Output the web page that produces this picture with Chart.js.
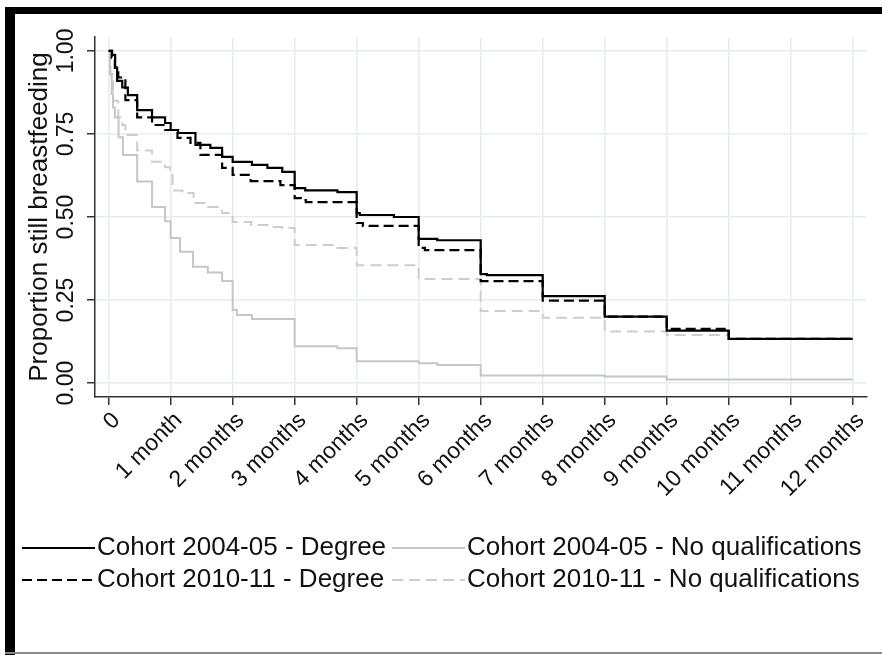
<!DOCTYPE html>
<html>
<head>
<meta charset="utf-8">
<script src="https://cdn.jsdelivr.net/npm/chart.js@4.4.1/dist/chart.umd.min.js"></script>
<style>
  html, body { margin: 0; padding: 0; background: #fff; }
  #wrap { position: relative; width: 882px; height: 655px; }
</style>
</head>
<body>
<div id="wrap"><canvas id="km"></canvas></div>
<script>
// axis ticks
const xTicks = [0, 1, 2, 3, 4, 5, 6, 7, 8, 9, 10, 11, 12];
const xTickLabels = ['0', '1 month', '2 months', '3 months', '4 months', '5 months', '6 months',
  '7 months', '8 months', '9 months', '10 months', '11 months', '12 months'];
const yTicks = [0, 0.25, 0.5, 0.75, 1];
const yTickLabels = ['0.00', '0.25', '0.50', '0.75', '1.00'];
const yTitle = 'Proportion still breastfeeding';

const seriesNames = ['Cohort 2004-05 - Degree', 'Cohort 2004-05 - No qualifications',
  'Cohort 2010-11 - Degree', 'Cohort 2010-11 - No qualifications'];

// Kaplan-Meier estimates (time in months, proportion)
const deg04Time = [0, 0.056, 0.105, 0.137, 0.22, 0.31, 0.46, 0.70, 0.91, 1.0, 1.12, 1.40, 1.64, 1.83, 2.0,
  2.31, 2.56, 2.80, 3.0, 3.17, 3.69, 4.0, 4.05, 4.6, 5.0, 5.3, 6.0, 6.1, 7.0, 8.0, 9.0, 10.0, 12.0];
const deg04Surv = [1.0, 0.988, 0.95, 0.91, 0.89, 0.867, 0.822, 0.80, 0.783, 0.762, 0.753, 0.717, 0.708, 0.681, 0.666,
  0.657, 0.648, 0.636, 0.587, 0.58, 0.575, 0.512, 0.506, 0.50, 0.434, 0.43, 0.328, 0.325, 0.262, 0.20, 0.158, 0.133, 0.133];

const noq04Time = [0, 0.02, 0.05, 0.07, 0.10, 0.16, 0.23, 0.46, 0.70, 0.91, 1.0, 1.15, 1.36, 1.6, 1.83, 2.0,
  2.07, 2.31, 3.0, 3.69, 4.0, 5.0, 5.3, 6.0, 8.0, 9.0, 12.0];
const noq04Surv = [1.0, 0.93, 0.87, 0.83, 0.80, 0.74, 0.687, 0.607, 0.53, 0.487, 0.437, 0.395, 0.35, 0.333, 0.307, 0.22,
  0.205, 0.193, 0.111, 0.105, 0.066, 0.06, 0.054, 0.023, 0.02, 0.011, 0.011];

const deg10Time = [0, 0.05, 0.10, 0.155, 0.27, 0.46, 0.70, 0.91, 1.11, 1.32, 1.48, 1.83, 2.0, 2.29, 2.77,
  3.0, 3.1, 3.18, 4.0, 4.1, 5.0, 5.1, 6.0, 7.0, 8.0, 9.0, 10.0, 12.0];
const deg10Surv = [1.0, 0.98, 0.95, 0.92, 0.852, 0.80, 0.777, 0.762, 0.738, 0.723, 0.687, 0.648, 0.627, 0.608, 0.596,
  0.557, 0.551, 0.545, 0.482, 0.473, 0.407, 0.40, 0.307, 0.248, 0.20, 0.163, 0.133, 0.133];

const noq10Time = [0, 0.03, 0.07, 0.155, 0.22, 0.27, 0.46, 0.70, 0.91, 0.99, 1.03, 1.19, 1.37, 1.6, 1.83, 2.0,
  2.3, 2.56, 2.8, 3.0, 3.69, 4.0, 5.0, 6.0, 7.0, 8.0, 9.0, 10.0];
const noq10Surv = [1.0, 0.93, 0.85, 0.80, 0.777, 0.747, 0.70, 0.666, 0.65, 0.636, 0.58, 0.572, 0.542, 0.53, 0.512, 0.485,
  0.476, 0.47, 0.467, 0.416, 0.407, 0.355, 0.313, 0.217, 0.197, 0.155, 0.145, 0.145];

const FONT = "'Liberation Sans', Arial, sans-serif";
const toPoints = (t, s) => t.map((v, i) => ({x: v, y: s[i]}));

// frame + y labels + legend, drawn on the canvas
const decor = {
  id: 'decor',
  beforeDraw(chart) {
    const ctx = chart.ctx;
    ctx.save();
    ctx.fillStyle = '#fff';
    ctx.fillRect(0, 0, chart.width, chart.height);
    ctx.fillStyle = '#000';
    ctx.fillRect(5, 7, chart.width - 5, 7);
    ctx.fillRect(5, 7, 10, chart.height - 7);
    ctx.fillStyle = '#8a8a8a';
    ctx.fillRect(5, chart.height - 3, chart.width - 5, 2);
    ctx.restore();
  },
  afterDraw(chart) {
    const ctx = chart.ctx;
    const ys = chart.scales.y;
    const area = chart.chartArea;
    ctx.save();
    ctx.fillStyle = '#111';
    ctx.textAlign = 'center';
    ctx.textBaseline = 'middle';
    ctx.font = '23px ' + FONT;
    yTicks.forEach((v, i) => {
      ctx.save();
      ctx.translate(67, ys.getPixelForValue(v));
      ctx.rotate(-Math.PI / 2);
      ctx.fillText(yTickLabels[i], 0, 0);
      ctx.restore();
    });
    ctx.font = '26px ' + FONT;
    ctx.save();
    ctx.translate(40, (area.top + area.bottom) / 2);
    ctx.rotate(-Math.PI / 2);
    ctx.fillText(yTitle, 0, 0);
    ctx.restore();

    // legend: two rows, two columns
    const cells = [
      {ds: 0, x: 22, y: 548}, {ds: 1, x: 392, y: 548},
      {ds: 2, x: 22, y: 580}, {ds: 3, x: 392, y: 580}
    ];
    ctx.font = '26px ' + FONT;
    ctx.textAlign = 'left';
    cells.forEach(c => {
      const d = chart.data.datasets[c.ds];
      ctx.save();
      ctx.strokeStyle = d.borderColor;
      ctx.lineWidth = d.borderWidth;
      ctx.setLineDash(d.borderDash || []);
      ctx.beginPath();
      ctx.moveTo(c.x, c.y);
      ctx.lineTo(c.x + 73, c.y);
      ctx.stroke();
      ctx.restore();
      ctx.fillText(d.label, c.x + 75, c.y);
    });
    ctx.restore();
  }
};

const gridColor = '#e6ecef';

new Chart(document.getElementById('km'), {
  type: 'line',
  data: {
    datasets: [
      {label: seriesNames[0], data: toPoints(deg04Time, deg04Surv), borderColor: '#000', borderWidth: 2.2, order: 1},
      {label: seriesNames[1], data: toPoints(noq04Time, noq04Surv), borderColor: '#c6c6c6', borderWidth: 2, order: 3},
      {label: seriesNames[2], data: toPoints(deg10Time, deg10Surv), borderColor: '#000', borderWidth: 2.2, borderDash: [10, 5], order: 2},
      {label: seriesNames[3], data: toPoints(noq10Time, noq10Surv), borderColor: '#cdcdcd', borderWidth: 2, borderDash: [11, 6], order: 4}
    ]
  },
  options: {
    responsive: true,
    maintainAspectRatio: false,
    animation: false,
    elements: {point: {radius: 0}, line: {stepped: true, fill: false}},
    layout: {padding: {top: 37, right: 15, left: 0, bottom: 0}},
    plugins: {legend: {display: false}, tooltip: {enabled: false}},
    scales: {
      x: {
        type: 'linear',
        min: -0.22,
        max: 12.23,
        afterBuildTicks: s => { s.ticks = xTicks.map(v => ({value: v})); },
        afterFit: s => { s.height = 258; },
        ticks: {
          callback: (v) => xTickLabels[xTicks.indexOf(v)],
          minRotation: 45,
          maxRotation: 45,
          autoSkip: false,
          color: '#111',
          font: {family: FONT, size: 23},
          padding: 2,
          labelOffset: 8
        },
        grid: {color: gridColor, lineWidth: 1.5, tickColor: '#333', tickLength: 8},
        border: {display: true, color: '#333', width: 1.5}
      },
      y: {
        type: 'linear',
        min: -0.042,
        max: 1.042,
        afterBuildTicks: s => { s.ticks = yTicks.map(v => ({value: v})); },
        afterFit: s => { s.width = 95; },
        ticks: {display: false},
        grid: {color: gridColor, lineWidth: 1.5, tickColor: '#333', tickLength: 8},
        border: {display: true, color: '#333', width: 1.5}
      }
    }
  },
  plugins: [decor]
});
</script>
</body>
</html>
